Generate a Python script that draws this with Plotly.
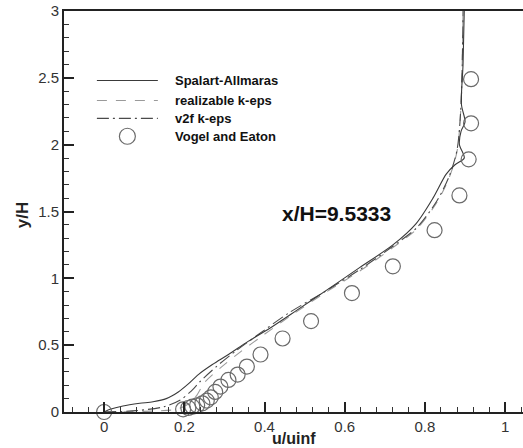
import plotly.graph_objects as go

# Experimental profile (Vogel and Eaton)
exp_u = [0.0, 0.197, 0.21, 0.22, 0.232, 0.245, 0.256, 0.266, 0.277, 0.29, 0.31,
         0.333, 0.356, 0.39, 0.445, 0.516, 0.618, 0.72, 0.824, 0.886, 0.909, 0.915, 0.915]
exp_y = [0.0, 0.02, 0.03, 0.04, 0.05, 0.065, 0.085, 0.11, 0.15, 0.19, 0.24,
         0.28, 0.34, 0.43, 0.55, 0.68, 0.89, 1.09, 1.36, 1.62, 1.89, 2.16, 2.49]

# Spalart-Allmaras
sa_u = [0.0, 0.015, 0.047, 0.089, 0.122, 0.155, 0.185, 0.21, 0.235, 0.27, 0.31,
        0.36, 0.42, 0.48, 0.554, 0.637, 0.72, 0.778, 0.82, 0.853, 0.875, 0.898,
        0.886, 0.89, 0.9, 0.891, 0.895, 0.898]
sa_y = [0.0, 0.02, 0.045, 0.065, 0.077, 0.10, 0.15, 0.21, 0.28, 0.355, 0.43,
        0.53, 0.64, 0.76, 0.91, 1.08, 1.25, 1.41, 1.6, 1.78, 1.85, 1.9,
        2.0, 2.1, 2.17, 2.3, 2.6, 3.0]

# realizable k-eps
rke_u = [0.0, 0.1, 0.18, 0.21, 0.23, 0.25, 0.29, 0.34, 0.39, 0.47, 0.55, 0.64,
         0.72, 0.78, 0.83, 0.86, 0.88, 0.89, 0.895]
rke_y = [0.0, 0.005, 0.02, 0.06, 0.12, 0.22, 0.33, 0.45, 0.56, 0.73, 0.89, 1.06,
         1.23, 1.37, 1.57, 1.75, 1.95, 2.3, 3.0]

# v2f k-eps
v2f_u = [0.0, 0.08, 0.15, 0.19, 0.215, 0.24, 0.28, 0.33, 0.38, 0.46, 0.55, 0.64,
         0.72, 0.78, 0.83, 0.86, 0.88, 0.89, 0.895]
v2f_y = [0.0, 0.01, 0.04, 0.09, 0.15, 0.23, 0.34, 0.46, 0.57, 0.74, 0.9, 1.07,
         1.24, 1.38, 1.58, 1.76, 1.96, 2.3, 3.0]

legend_names = ["Spalart-Allmaras", "realizable k-eps", "v2f k-eps", "Vogel and Eaton"]
x_ticks = [0, 0.2, 0.4, 0.6, 0.8, 1]
x_tick_text = ["0", "0.2", "0.4", "0.6", "0.8", "1"]
y_ticks = [0, 0.5, 1, 1.5, 2, 2.5, 3]
y_tick_text = ["0", "0.5", "1", "1.5", "2", "2.5", "3"]
station_label = "x/H=9.5333"
x_title = "u/uinf"
y_title = "y/H"

FONT = "Liberation Sans, Arial, sans-serif"
SA_STYLE = dict(color="#3a3a3a", width=1.1, dash="solid")
RKE_STYLE = dict(color="#9a9a9a", width=1.1, dash="10px,9px")
V2F_STYLE = dict(color="#4a4a4a", width=1.1, dash="12px,4px,2px,4px")
EXP_COLOR = "#6a6a6a"

fig = go.Figure()

fig.add_trace(go.Scatter(x=rke_u, y=rke_y, mode="lines", name=legend_names[1],
                         line=dict(shape="spline", smoothing=0.8, **RKE_STYLE)))
fig.add_trace(go.Scatter(x=v2f_u, y=v2f_y, mode="lines", name=legend_names[2],
                         line=dict(shape="spline", smoothing=0.8, **V2F_STYLE)))
fig.add_trace(go.Scatter(x=sa_u, y=sa_y, mode="lines", name=legend_names[0],
                         line=dict(shape="spline", smoothing=0.8, **SA_STYLE)))
fig.add_trace(go.Scatter(x=exp_u, y=exp_y, mode="markers", name=legend_names[3],
                         cliponaxis=False,
                         marker=dict(symbol="circle-open", size=15,
                                     color=EXP_COLOR, line=dict(width=1.2, color=EXP_COLOR))))

# Hand-drawn key in the upper-left corner
key_x0, key_x1 = -0.018, 0.134
key_text_x = 0.171
key_rows = [2.48, 2.33, 2.197, 2.063]
shapes = []
for style, yy in zip([SA_STYLE, RKE_STYLE, V2F_STYLE], key_rows[:3]):
    shapes.append(dict(type="line", xref="x", yref="y", x0=key_x0, x1=key_x1,
                       y0=yy, y1=yy, line=style))
shapes.append(dict(type="circle", xref="x", yref="y", xsizemode="pixel", ysizemode="pixel",
                   xanchor=(key_x0 + key_x1) / 2, yanchor=key_rows[3],
                   x0=-8, x1=8, y0=-8, y1=8, line=dict(color=EXP_COLOR, width=1.2)))

annotations = []
for name, yy in zip(legend_names, key_rows):
    annotations.append(dict(x=key_text_x, y=yy, xref="x", yref="y", text="<b>%s</b>" % name,
                            showarrow=False, xanchor="left", yanchor="middle",
                            font=dict(family=FONT, size=13, color="#111")))
annotations.append(dict(x=0.58, y=1.487, xref="x", yref="y", text="<b>%s</b>" % station_label,
                        showarrow=False, xanchor="center", yanchor="middle",
                        font=dict(family=FONT, size=21, color="#111")))
# axis titles
annotations.append(dict(x=0.5, y=-0.066, xref="paper", yref="paper", text="<b>%s</b>" % x_title,
                        showarrow=False, xanchor="center", yanchor="middle",
                        font=dict(family=FONT, size=16, color="#222")))
annotations.append(dict(x=-0.09, y=0.49, xref="paper", yref="paper", text="<b>%s</b>" % y_title,
                        showarrow=False, xanchor="center", yanchor="middle", textangle=-90,
                        font=dict(family=FONT, size=17, color="#222")))

fig.update_layout(
    width=523, height=448,
    margin=dict(l=64, r=0, t=11, b=36),
    paper_bgcolor="white", plot_bgcolor="white",
    showlegend=False,
    shapes=shapes, annotations=annotations,
    font=dict(family=FONT, color="#222"),
)

fig.update_xaxes(
    range=[-0.1, 1.0445], showgrid=False, zeroline=False,
    showline=True, linecolor="#222", linewidth=2, mirror=True,
    ticks="inside", ticklen=10, tickwidth=2, tickcolor="#222",
    tickvals=x_ticks, ticktext=x_tick_text, tickfont=dict(size=15, color="#333"),
    minor=dict(ticks="inside", ticklen=5, tickwidth=1.2, tickcolor="#333", dtick=0.04,
               tick0=0, showgrid=False),
)
fig.update_yaxes(
    range=[0, 3], showgrid=False, zeroline=False,
    showline=True, linecolor="#222", linewidth=2, mirror=False,
    ticks="inside", ticklen=10, tickwidth=2, tickcolor="#222",
    tickvals=y_ticks, ticktext=y_tick_text, tickfont=dict(size=15, color="#333"),
    minor=dict(ticks="inside", ticklen=5, tickwidth=1.2, tickcolor="#333", dtick=0.1,
               tick0=0, showgrid=False),
)

fig.write_html("out.html")
